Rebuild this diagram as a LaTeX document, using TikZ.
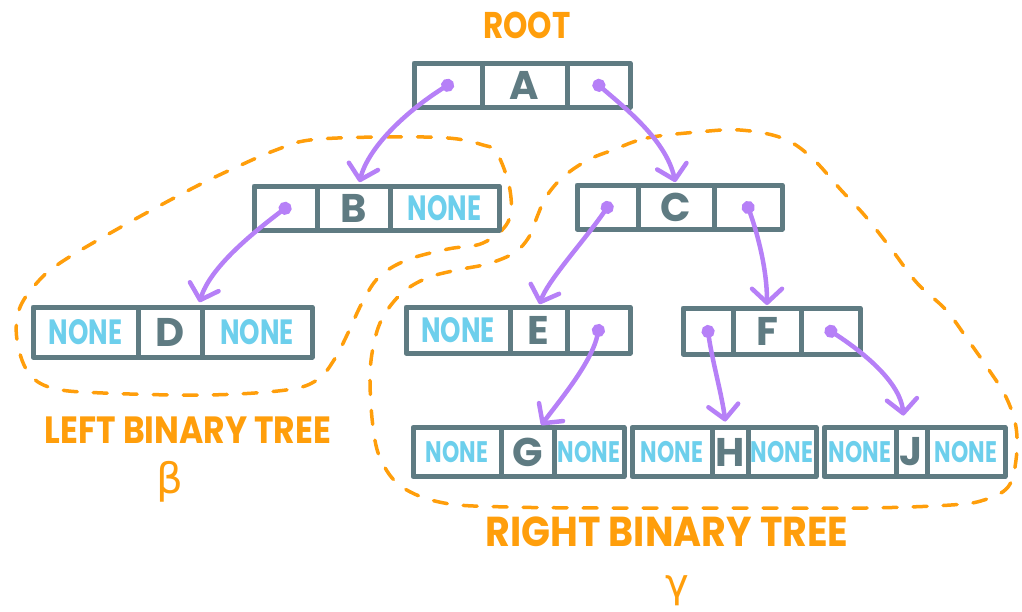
\documentclass[tikz,border=0pt]{standalone}
\usepackage{fontspec}
\setmainfont{Poppins}
\newfontfamily\grk{DejaVu Sans}
\usetikzlibrary{arrows.meta}
\definecolor{slate}{RGB}{95,123,130}
\definecolor{nonecol}{RGB}{109,207,236}
\definecolor{orng}{RGB}{255,158,11}
\definecolor{purp}{RGB}{182,128,247}
\newcommand\midl[1]{{\fontsize{40}{40}\selectfont\bfseries\textcolor{slate}{#1}}}
\newcommand\nonetx[1]{{\fontsize{#1}{#1}\selectfont\bfseries\textcolor{nonecol}{\scalebox{1}[1.35]{NONE}}}}
\newcommand\treebox[9]{%
  \node[cell, minimum width={(#3-#2)*1pt}, minimum height={\bh*1pt}] (#1l) at ({(#2+#3)/2},#6) {#7};
  \node[cell, minimum width={(#4-#3)*1pt}, minimum height={\bh*1pt}] (#1m) at ({(#3+#4)/2},#6) {#8};
  \node[cell, minimum width={(#5-#4)*1pt}, minimum height={\bh*1pt}] (#1r) at ({(#4+#5)/2},#6) {#9};
}
\tikzset{
  cell/.style={draw=slate, line width=5pt, line join=round, inner sep=0pt, outer sep=0pt},
  link/.style={draw=purp, line width=4.5pt, line cap=round, shorten <=-6pt,
    {Circle[length=13pt]}-{Straight Barb[length=14pt,width=30pt,round]}},
  region/.style={draw=orng, line width=3.5pt, line cap=round, dash pattern=on 14pt off 16pt},
  lbl/.style={text=orng, font=\bfseries, inner sep=0pt}
}
\begin{document}
\begin{tikzpicture}[x=1pt,y=-1pt]
\useasboundingbox (0,0) rectangle (1022,611);
% dashed regions
\draw[region] plot[smooth cycle, tension=0.6] coordinates {
  (497,153) (510,190) (508,222) (483,243) (448,249) (407,260) (379,277) (362,303)
  (348,333) (334,360) (317,380) (286,390) (207,395) (103,393) (52,388) (28,372)
  (17,340) (19,310) (35,285) (60,263) (121,227) (193,188) (241,165) (276,150)
  (310,140) (379,137) (448,138) (483,145)};
\draw[region] plot[smooth cycle, tension=0.6] coordinates {
  (613,150) (647,138) (698,132) (740,130) (782,138) (811,157) (841,190) (866,217)
  (892,250) (917,283) (946,310) (968,340) (989,370) (1006,397) (1016,427) (1016,460)
  (1008,487) (984,500) (951,505) (866,508) (740,508) (613,508) (508,507) (444,503)
  (402,487) (381,460) (373,427) (370,377) (374,343) (383,317) (402,293) (427,278)
  (457,270) (487,264) (514,253) (529,237) (537,217) (546,197) (563,177) (588,160)};
% boxes
\def\bh{44}
\treebox{A}{414}{482}{567}{630}{85}{}{\midl{A}}{}
\treebox{B}{254}{317}{390}{499}{208}{}{\midl{B}}{\nonetx{26}}
\treebox{C}{577}{638}{714}{782}{207}{}{\midl{C}}{}
\def\bh{50}
\treebox{D}{33}{138}{202}{312}{332}{\nonetx{26}}{\midl{D}}{\nonetx{26}}
\def\bh{46}
\treebox{E}{406}{510}{567}{630}{330}{\nonetx{26}}{\midl{E}}{}
\treebox{F}{683}{733}{801}{860}{331}{}{\midl{F}}{}
\def\bh{49}
\treebox{G}{413}{501}{554}{624}{452}{\nonetx{22}}{\midl{G}}{\nonetx{22}}
\treebox{H}{632}{712}{748}{816}{452}{\nonetx{22}}{\midl{H}}{\nonetx{22}}
\treebox{J}{824}{896}{927}{1005}{452}{\nonetx{22}}{\midl{J}}{\nonetx{22}}
% links
\draw[link, shorten >=4pt] (Al.center) .. controls (405,112) and (368,148) .. ([xshift=5pt]Bm.north);
\draw[link, shorten >=3pt] (Ar.center) .. controls (625,108) and (666,140) .. (Cm.north);
\draw[link, shorten >=5pt] (Bl.center) .. controls (250,235) and (210,268) .. ([xshift=-4pt]Dm.north east);
\draw[link, shorten >=3pt] (Cl.center) .. controls (585,240) and (548,280) .. (Em.north);
\draw[link, shorten >=3pt] (Cr.center) .. controls (758,235) and (767,270) .. (Fm.north);
\draw[link, shorten >=3pt] (Er.center) .. controls (592,362) and (560,400) .. ([xshift=12pt]Gm.north);
\draw[link, shorten >=6pt] (Fl.center) .. controls (712,360) and (722,395) .. ([xshift=-4pt]Hm.north);
\draw[link, shorten >=12pt] (Fr.center) .. controls (852,345) and (900,378) .. ([xshift=-7pt]Jm.north);
% labels
\node[lbl, font=\fontsize{31}{31}\selectfont\bfseries] (root) at (527,25) {\scalebox{1}[1.2]{ROOT}};
\node[lbl, font=\fontsize{33}{33}\selectfont\bfseries] (left) at (188,430) {\scalebox{1}[1.15]{LEFT BINARY TREE}};
\node[lbl, font=\fontsize{42}{42}\selectfont\grk] (beta) at (170,482) {β};
\node[lbl, font=\fontsize{38}{38}\selectfont\bfseries] (right) at (667,532) {\scalebox{1}[1.1]{RIGHT BINARY TREE}};
\node[lbl, font=\fontsize{40}{40}\selectfont\grk] (gamma) at (677,591) {γ};
\end{tikzpicture}
\end{document}
